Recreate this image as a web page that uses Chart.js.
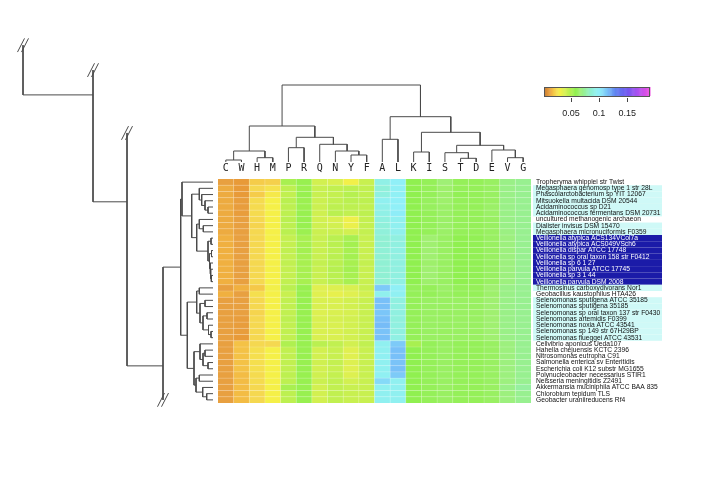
<!DOCTYPE html>
<html>
<head>
<meta charset="utf-8">
<script src="https://cdn.jsdelivr.net/npm/chart.js@4"></script>
<style>
  body { margin: 0; background: #fff; }
  #wrap { position: relative; width: 701px; height: 496px; overflow: hidden; }
  #wrap canvas { position: absolute; }
</style>
</head>
<body>
<div id="wrap">
  <canvas id="rowTree" width="218" height="496" style="left:0;top:0"></canvas>
  <canvas id="colTree" width="313" height="82" style="left:218px;top:80px"></canvas>
  <canvas id="heat" width="491" height="270" style="left:210px;top:150px"></canvas>
  <canvas id="key" width="130" height="45" style="left:536px;top:80px"></canvas>
</div>
<script>
// columns (amino acids) in dendrogram order
const aminoAcids = ['C','W','H','M','P','R','Q','N','Y','F','A','L','K','I','S','T','D','E','V','G'];

const species = [
  'Tropheryma whipplei str Twist',
  'Megasphaera genomosp type 1 str 28L',
  'Phascolarctobacterium sp YIT 12067',
  'Mitsuokella multacida DSM 20544',
  'Acidaminococcus sp D21',
  'Acidaminococcus fermentans DSM 20731',
  'uncultured methanogenic archaeon',
  'Dialister invisus DSM 15470',
  'Megasphaera micronuciformis F0359',
  'Veillonella atypica ACS134VCol7a',
  'Veillonella atypica ACS049VSch6',
  'Veillonella dispar ATCC 17748',
  'Veillonella sp oral taxon 158 str F0412',
  'Veillonella sp 6 1 27',
  'Veillonella parvula ATCC 17745',
  'Veillonella sp 3 1 44',
  'Veillonella parvula DSM 2008',
  'Thermosinus carboxydivorans Nor1',
  'Geobacillus kaustophilus HTA426',
  'Selenomonas sputigena ATCC 35185',
  'Selenomonas sputigena 35185',
  'Selenomonas sp oral taxon 137 str F0430',
  'Selenomonas artemidis F0399',
  'Selenomonas noxia ATCC 43541',
  'Selenomonas sp 149 str 67H29BP',
  'Selenomonas flueggei ATCC 43531',
  'Cellvibrio aponicus Ueda107',
  'Hahella chejuensis KCTC 2396',
  'Nitrosomonas eutropha C91',
  'Salmonella enterica sv Enteritidis',
  'Escherichia coli K12 substr MG1655',
  'Polynucleobacter necessarius STIR1',
  'Neisseria meningitidis Z2491',
  'Akkermansia muciniphila ATCC BAA 835',
  'Chlorobium tepidum TLS',
  'Geobacter uraniireducens Rf4'
];

// label highlight per row: '' none, 'c' cyan, 'b' dark blue
const labelMarks = ['', 'c','c','c','c','c', '', 'c','c',
  'b','b','b','b','b','b','b','b', 'c', '',
  'c','c','c','c','c','c','c', '', '','','','','','','','',''];

// amino acid frequencies, one row per species, columns as aminoAcids
const freq = [
  [.012,.010,.020,.021,.052,.056,.040,.038,.031,.043,.092,.100,.058,.060,.066,.060,.060,.062,.070,.072],
  [.014,.010,.023,.026,.046,.055,.043,.045,.046,.045,.088,.098,.058,.060,.064,.060,.060,.062,.070,.072],
  [.014,.010,.020,.028,.045,.056,.043,.044,.048,.045,.090,.098,.058,.060,.064,.059,.060,.062,.070,.072],
  [.014,.011,.024,.030,.047,.055,.042,.045,.047,.046,.095,.100,.058,.061,.064,.060,.060,.062,.070,.072],
  [.014,.011,.024,.030,.046,.055,.042,.046,.046,.045,.093,.100,.058,.061,.063,.060,.060,.063,.070,.072],
  [.014,.011,.024,.030,.046,.056,.041,.047,.045,.046,.092,.101,.058,.060,.063,.060,.060,.063,.070,.072],
  [.014,.012,.023,.030,.047,.056,.040,.038,.032,.044,.090,.095,.058,.060,.063,.060,.060,.062,.070,.072],
  [.014,.012,.022,.030,.046,.056,.041,.040,.033,.044,.088,.095,.058,.060,.063,.060,.060,.062,.070,.072],
  [.014,.012,.023,.030,.047,.055,.042,.042,.040,.044,.088,.094,.058,.060,.063,.060,.060,.062,.069,.072],
  [.015,.012,.023,.030,.044,.052,.043,.047,.052,.043,.086,.090,.058,.065,.062,.058,.059,.062,.068,.072],
  [.015,.012,.023,.030,.044,.052,.043,.047,.053,.043,.086,.090,.058,.065,.062,.058,.059,.062,.068,.072],
  [.015,.012,.023,.030,.045,.053,.043,.046,.052,.043,.087,.091,.058,.065,.062,.058,.059,.062,.068,.072],
  [.015,.012,.023,.030,.044,.052,.043,.047,.053,.043,.086,.090,.058,.065,.062,.058,.059,.062,.068,.072],
  [.015,.012,.023,.030,.045,.052,.044,.047,.052,.044,.086,.090,.058,.064,.062,.058,.059,.062,.068,.072],
  [.015,.012,.023,.030,.044,.052,.043,.048,.053,.043,.086,.090,.058,.065,.062,.058,.059,.062,.068,.072],
  [.015,.012,.023,.030,.044,.052,.043,.047,.052,.043,.086,.090,.058,.065,.062,.058,.059,.062,.068,.072],
  [.015,.012,.023,.030,.045,.052,.043,.047,.052,.043,.086,.091,.058,.064,.062,.058,.059,.062,.068,.072],
  [.012,.015,.019,.031,.047,.056,.036,.037,.038,.043,.112,.099,.060,.060,.063,.060,.060,.065,.070,.072],
  [.015,.012,.025,.030,.043,.056,.036,.034,.036,.040,.094,.096,.060,.060,.062,.060,.060,.064,.070,.072],
  [.012,.012,.023,.030,.045,.056,.038,.038,.040,.043,.115,.090,.060,.062,.062,.062,.062,.065,.070,.072],
  [.012,.012,.023,.030,.045,.056,.038,.038,.040,.043,.115,.090,.060,.062,.062,.062,.062,.065,.070,.072],
  [.012,.012,.022,.030,.045,.056,.037,.038,.039,.043,.113,.090,.060,.062,.062,.062,.062,.065,.070,.072],
  [.012,.011,.023,.030,.046,.056,.038,.039,.040,.043,.115,.089,.060,.062,.062,.062,.062,.065,.070,.072],
  [.012,.011,.023,.030,.045,.056,.038,.038,.040,.043,.116,.090,.060,.062,.062,.062,.062,.065,.070,.072],
  [.012,.011,.023,.030,.045,.056,.038,.038,.040,.043,.114,.090,.060,.062,.062,.062,.062,.065,.070,.072],
  [.012,.010,.023,.030,.045,.056,.038,.038,.040,.043,.115,.091,.060,.062,.062,.062,.062,.065,.070,.072],
  [.012,.018,.023,.023,.050,.056,.047,.045,.040,.045,.095,.112,.052,.060,.062,.060,.060,.062,.068,.072],
  [.012,.018,.025,.030,.045,.056,.040,.043,.036,.043,.095,.115,.058,.060,.062,.060,.060,.062,.068,.072],
  [.012,.018,.025,.030,.045,.056,.040,.043,.036,.043,.096,.115,.058,.060,.062,.060,.060,.062,.068,.072],
  [.012,.018,.025,.030,.045,.056,.041,.044,.037,.043,.095,.114,.058,.060,.062,.060,.060,.062,.068,.072],
  [.012,.018,.025,.030,.045,.056,.040,.043,.036,.043,.095,.115,.058,.060,.062,.060,.060,.062,.068,.072],
  [.012,.017,.024,.030,.046,.056,.041,.044,.037,.043,.096,.112,.058,.060,.062,.060,.060,.062,.068,.072],
  [.012,.017,.024,.030,.046,.056,.042,.045,.040,.043,.107,.095,.058,.060,.062,.060,.060,.062,.068,.072],
  [.012,.017,.023,.030,.052,.056,.040,.045,.043,.043,.095,.095,.058,.060,.062,.060,.060,.062,.070,.075],
  [.012,.017,.023,.030,.046,.056,.040,.045,.043,.043,.095,.095,.058,.060,.062,.060,.060,.062,.068,.072],
  [.012,.017,.023,.030,.046,.056,.040,.045,.043,.043,.095,.095,.058,.060,.062,.060,.060,.062,.068,.072]
];

// column dendrogram: [height, left, right], leaves = column index
const colTree = [77, [36, [11, [2, 0, 1], [4.3, 2, 3]], [24.7, [14.3, 4, 5], [17.7, 6, [11, 7, [7, 8, 9]]]]],
  [45.3, [22.7, 10, 11], [29.7, [10, 12, 13], [16.7, [9.3, 14, [3.7, 15, 16]], [12, 17, [4.3, 18, 19]]]]]];

// row dendrogram: [height, top, bottom], leaves = row index, strings = cut-off outgroups
const rowTree =
  [19.0, 'g4',
   [12.0, 'g3',
    [8.6, 'g2',
     [5.0,
      [3.23,
       [3.1, 0,
        [2.13,
         [1.37, 1, [1.13, 2, [0.8, 3, [0.5, 4, 5]]]],
         [1.63,
          [1.37, 6, [0.97, 7, 8]],
          [0.5, [0.2, 9, 10], [0.35, [0.15, 11, 12], [0.3, 13, [0.23, 14, [0.17, 15, 16]]]]]]]],
       [2.57,
        [1.63,
         [1.37, 17, 18],
         [1.3, [0.8, 19, 20], [1.0, [0.6, 21, 22], [0.45, 23, [0.2, 24, 25]]]]],
        [1.9,
         [1.3, 26, [1.0, [0.8, 27, 28], [0.5, 29, 30]]],
         [1.7, [1.37, 31, 32], [1.03, 33, [0.63, 34, 35]]]]]],
      'g1']]]];

// outgroups sit outside the plot; row = position in row units, cut = where the branch is broken
const rowOutgroups = {
  g1: { row: 45.4, cut: 35.0 },
  g2: { row: -23.2, cut: -7.9 },
  g3: { row: -31.2, cut: -18.0 },
  g4: { row: -30.0, cut: -22.0 }
};

// colour key ticks and range
const keyTicks = [0.05, 0.1, 0.15];
const keyRange = [0.0018, 0.1907];

// palette stops [value, colour]
const paletteStops = [
  [0.000, '#b8743a'], [0.010, '#e89a38'], [0.012, '#e8a040'], [0.015, '#f0b040'],
  [0.019, '#f5c848'], [0.023, '#f5d850'], [0.030, '#f5f048'], [0.036, '#e0f050'],
  [0.043, '#c8f050'], [0.052, '#a8f050'], [0.058, '#90f050'], [0.065, '#a0f070'],
  [0.072, '#98f090'], [0.085, '#90f0d0'], [0.095, '#90f0f0'], [0.100, '#90f0f8'],
  [0.115, '#78c0f8'], [0.130, '#6080f0'], [0.150, '#7058f0'], [0.170, '#b050f0'],
  [0.191, '#f050e0']
];

function hexRgb(h) {
  return [parseInt(h.slice(1,3),16), parseInt(h.slice(3,5),16), parseInt(h.slice(5,7),16)];
}

function colourFor(v) {
  if (v <= paletteStops[0][0]) return paletteStops[0][1];
  for (let i = 1; i < paletteStops.length; i++) {
    const [v1, c1] = paletteStops[i];
    if (v <= v1) {
      const [v0, c0] = paletteStops[i-1];
      const t = (v - v0) / (v1 - v0);
      const a = hexRgb(c0), b = hexRgb(c1);
      const m = a.map((x, k) => Math.round(x + (b[k] - x) * t));
      return `rgb(${m[0]},${m[1]},${m[2]})`;
    }
  }
  return paletteStops[paletteStops.length-1][1];
}

// walk a tree, collecting bracket polylines and break marks
function layoutTree(node, leafPos, out) {
  if (typeof node === 'number') return { h: 0, y: leafPos(node) };
  if (typeof node === 'string') {
    const g = rowOutgroups[node];
    return { h: null, y: g.row, cut: g.cut };
  }
  const [h, a, b] = node;
  const A = layoutTree(a, leafPos, out);
  const B = layoutTree(b, leafPos, out);
  const pts = [];
  if (A.h === null) { pts.push({ x: h, y: A.cut }); out.breaks.push({ x: h, y: A.cut }); }
  else pts.push({ x: A.h, y: A.y }, { x: h, y: A.y });
  if (B.h === null) { pts.push({ x: h, y: B.cut }); out.breaks.push({ x: h, y: B.cut }); }
  else pts.push({ x: h, y: B.y }, { x: B.h, y: B.y });
  out.lines.push(pts);
  return { h: h, y: (A.y + B.y) / 2 };
}

const lineStyle = { showLine: true, borderColor: '#4a4a4a', borderWidth: 1, pointRadius: 0, fill: false, clip: false, tension: 0 };
const quiet = { legend: { display: false }, tooltip: { enabled: false } };

// ---- row dendrogram ----
const HEAT_TOP = 179, HEAT_H = 224, CANVAS_H = 496;
const rowH = HEAT_H / species.length;
const rowMin = (0 - HEAT_TOP) / rowH - 0.5;
const rowMax = (CANVAS_H - HEAT_TOP) / rowH - 0.5;

const rowParts = { lines: [], breaks: [] };
layoutTree(rowTree, r => r, rowParts);
const rowDatasets = rowParts.lines.map(pts => Object.assign({ data: pts }, lineStyle));
rowParts.breaks.forEach(b => {
  [-0.2, 0.2].forEach(off => {
    rowDatasets.push(Object.assign({ data: [
      { x: b.x + 0.35 + off, y: b.y + 1.1 },
      { x: b.x - 0.35 + off, y: b.y - 1.1 }
    ] }, lineStyle));
  });
});

new Chart(document.getElementById('rowTree'), {
  type: 'scatter',
  data: { datasets: rowDatasets },
  options: {
    responsive: false, animation: false,
    layout: { padding: 0 },
    plugins: quiet,
    scales: {
      x: { type: 'linear', display: false, reverse: true, min: -0.5, max: 21.3 },
      y: { type: 'linear', display: false, reverse: true, min: rowMin, max: rowMax }
    }
  }
});

// ---- column dendrogram ----
const colParts = { lines: [], breaks: [] };
layoutTree(colTree, c => c, colParts);
new Chart(document.getElementById('colTree'), {
  type: 'scatter',
  data: { datasets: colParts.lines.map(pts => Object.assign({ data: pts.map(p => ({ x: p.y, y: p.x })) }, lineStyle)) },
  options: {
    responsive: false, animation: false,
    layout: { padding: 0 },
    plugins: quiet,
    scales: {
      x: { type: 'linear', display: false, min: -0.5, max: aminoAcids.length - 0.5 },
      y: { type: 'linear', display: false, min: 0, max: 82 }
    }
  }
});

// ---- heatmap ----
const heatPlugin = {
  id: 'heatCells',
  beforeDraw(chart) {
    // label highlight bands go under the tick labels
    const { ctx, scales: { y }, chartArea } = chart;
    const ch = y.getPixelForValue(1) - y.getPixelForValue(0);
    ctx.save();
    labelMarks.forEach((m, r) => {
      if (!m) return;
      ctx.fillStyle = m === 'b' ? '#1b1ba8' : '#cff9f7';
      ctx.fillRect(chartArea.right + 2, y.getPixelForValue(r) - ch / 2, 129, ch);
    });
    ctx.restore();
  },
  beforeDatasetsDraw(chart) {
    const { ctx, scales: { x, y }, chartArea } = chart;
    const cw = x.getPixelForValue(1) - x.getPixelForValue(0);
    const ch = y.getPixelForValue(1) - y.getPixelForValue(0);
    ctx.save();
    freq.forEach((row, r) => {
      row.forEach((v, c) => {
        ctx.fillStyle = colourFor(v);
        ctx.fillRect(x.getPixelForValue(c) - cw / 2, y.getPixelForValue(r) - ch / 2, cw, ch);
      });
    });
    ctx.strokeStyle = 'rgba(255,255,255,0.3)';
    ctx.lineWidth = 0.6;
    ctx.beginPath();
    for (let c = 1; c < aminoAcids.length; c++) {
      const px = x.getPixelForValue(c) - cw / 2;
      ctx.moveTo(px, chartArea.top); ctx.lineTo(px, chartArea.bottom);
    }
    for (let r = 1; r < species.length; r++) {
      const py = y.getPixelForValue(r) - ch / 2;
      ctx.moveTo(chartArea.left, py); ctx.lineTo(chartArea.right, py);
    }
    ctx.stroke();
    ctx.restore();
  }
};

new Chart(document.getElementById('heat'), {
  type: 'scatter',
  data: { datasets: [] },
  options: {
    responsive: false, animation: false,
    layout: { padding: { left: 8, right: 0, top: 0, bottom: 17 } },
    plugins: quiet,
    scales: {
      x: {
        type: 'category', labels: aminoAcids, position: 'top', offset: true,
        grid: { display: false, drawTicks: false }, border: { display: false },
        ticks: { font: { family: 'DejaVu Sans Mono', size: 10 }, color: '#222', padding: 5, autoSkip: false, maxRotation: 0 },
        afterFit(s) { s.height = 29; }
      },
      y: {
        type: 'category', labels: species, position: 'right', offset: true,
        grid: { display: false, drawTicks: false }, border: { display: false },
        ticks: {
          font: { family: 'Liberation Sans', size: 6.7 }, padding: 5, autoSkip: false,
          color: ctx => labelMarks[ctx.index] === 'b' ? '#ffffff' : '#111111'
        },
        afterFit(s) { s.width = 170; }
      }
    }
  },
  plugins: [heatPlugin]
});

// ---- colour key ----
const keyPlugin = {
  id: 'keyStrip',
  beforeDatasetsDraw(chart) {
    const { ctx, scales: { x }, chartArea } = chart;
    const n = 120;
    const step = (keyRange[1] - keyRange[0]) / n;
    const top = chartArea.top, h = chartArea.bottom - chartArea.top - 2;
    ctx.save();
    for (let i = 0; i < n; i++) {
      const v0 = keyRange[0] + i * step;
      const p0 = x.getPixelForValue(v0), p1 = x.getPixelForValue(v0 + step);
      ctx.fillStyle = colourFor(v0 + step / 2);
      ctx.fillRect(p0, top, p1 - p0 + 0.5, h);
    }
    ctx.strokeStyle = '#555';
    ctx.lineWidth = 1;
    ctx.strokeRect(x.getPixelForValue(keyRange[0]) + 0.5, top + 0.5, x.getPixelForValue(keyRange[1]) - x.getPixelForValue(keyRange[0]) - 1, h);
    ctx.restore();
  }
};

new Chart(document.getElementById('key'), {
  type: 'scatter',
  data: { datasets: [] },
  options: {
    responsive: false, animation: false,
    layout: { padding: { left: 8, right: 16, top: 7, bottom: 0 } },
    plugins: quiet,
    scales: {
      x: {
        type: 'linear', min: keyRange[0], max: keyRange[1],
        afterBuildTicks(s) { s.ticks = keyTicks.map(v => ({ value: v })); },
        grid: { drawOnChartArea: false, drawTicks: true, tickLength: 4, color: '#444' },
        border: { display: false },
        ticks: { font: { family: 'Liberation Sans', size: 9 }, color: '#222', padding: 6, callback: v => String(v) },
        afterFit(s) { s.height = 27; }
      },
      y: { display: false }
    }
  },
  plugins: [keyPlugin]
});
</script>
</body>
</html>
